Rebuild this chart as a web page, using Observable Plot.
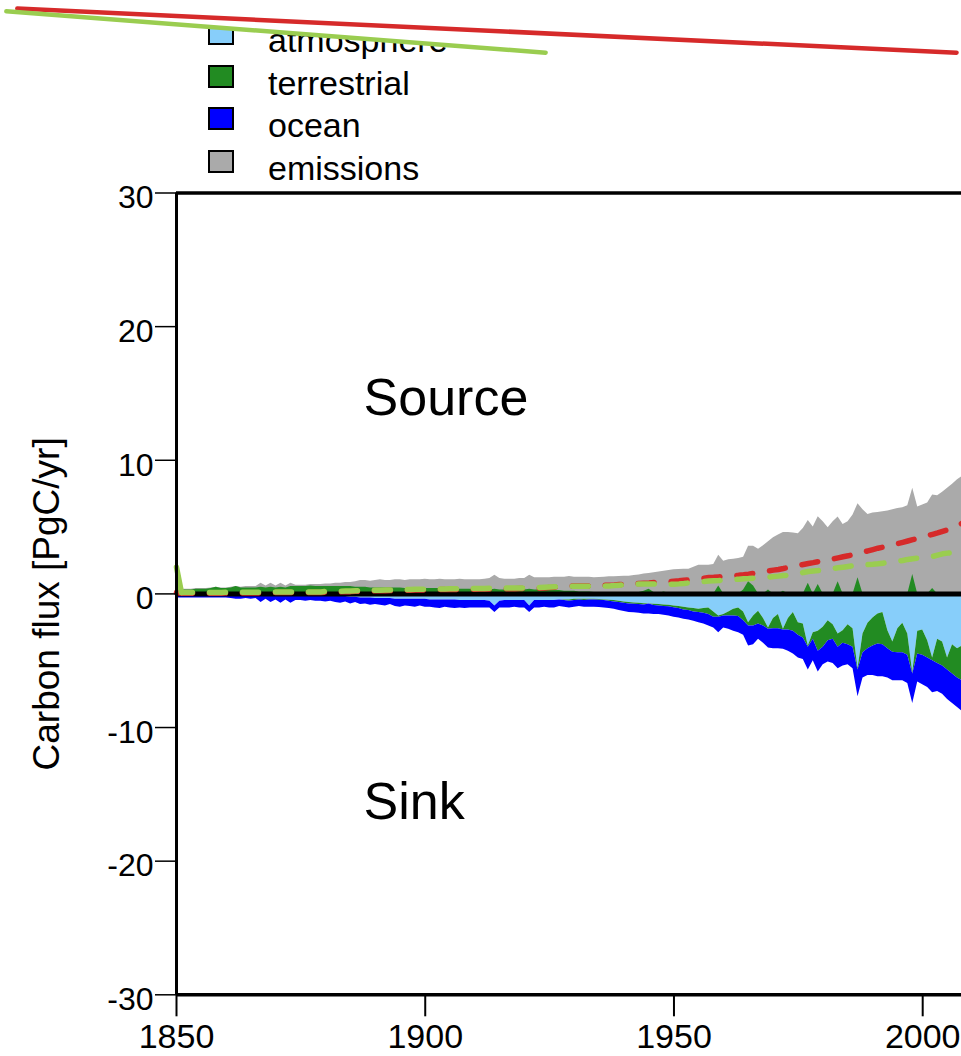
<!DOCTYPE html>
<html>
<head>
<meta charset="utf-8">
<script src="https://cdn.jsdelivr.net/npm/d3@7"></script>
<script src="https://cdn.jsdelivr.net/npm/@observablehq/plot@0.6"></script>
<style>
  html, body { margin: 0; padding: 0; background: #fff; }
  #wrap { position: relative; width: 961px; height: 1056px; overflow: hidden; font-family: "Liberation Sans", Arial, sans-serif; }
  #legend { position: absolute; left: 0; top: 0; width: 961px; height: 200px; z-index: 0; }
  #chart { position: absolute; left: 0; top: 0; z-index: 1; }
  .sw { position: absolute; left: 208px; width: 26px; height: 23px; border: 2px solid #000; box-sizing: border-box; }
  .lt { position: absolute; left: 268px; font-size: 34px; line-height: 34px; color: #000; white-space: nowrap; }
</style>
</head>
<body>
<div id="wrap">
  <div id="legend"></div>
  <div id="chart"></div>
</div>
<script>
// ---------------- data (PgC/yr), one value per year 1850..2008 ----------------
const years = d3.range(1850, 2009);

const emissions = [
  0.35,0.35,0.35,0.35,0.4,0.4,0.4,0.45,0.5,0.45,
  0.45,0.5,0.55,0.5,0.55,0.55,0.55,0.8,0.6,0.8,
  0.6,0.8,0.6,0.8,0.65,0.65,0.65,0.7,0.7,0.7,
  0.75,0.75,0.8,0.8,0.85,0.85,0.9,1.0,1.0,0.95,
  1.0,1.05,1.0,1.0,1.05,1.05,1.0,1.05,1.05,1.05,
  1.1,1.05,1.05,1.1,1.05,1.05,1.05,1.1,1.05,1.05,
  1.05,1.05,1.1,1.15,1.4,1.15,1.1,1.1,1.1,1.15,
  1.15,1.4,1.2,1.2,1.2,1.2,1.25,1.25,1.25,1.3,
  1.25,1.25,1.25,1.25,1.2,1.22,1.25,1.28,1.28,1.3,
  1.32,1.32,1.38,1.42,1.48,1.52,1.58,1.64,1.7,1.76,
  1.8,1.82,1.84,1.85,2.0,2.15,2.15,2.15,2.2,2.9,
  2.45,2.55,2.6,2.65,2.75,3.57,3.57,3.35,3.6,3.9,
  4.2,4.4,4.6,4.6,4.55,4.5,4.9,5.5,5.0,5.77,
  5.4,4.95,5.4,5.75,5.2,5.4,5.9,6.75,6.3,5.95,
  6.05,6.1,6.15,6.2,6.3,6.4,6.45,6.6,7.9,6.5,
  6.65,6.8,7.4,7.35,7.6,7.9,8.2,8.55,8.8
];

// terrestrial flux shown as a source (above zero)
const terrestrialSource = [
  0.3,0.3,0.3,0.3,0.35,0.35,0.35,0.4,0.5,0.4,
  0.4,0.45,0.55,0.45,0.45,0.45,0.45,0.5,0.45,0.5,
  0.45,0.5,0.45,0.55,0.55,0.55,0.55,0.6,0.55,0.55,
  0.55,0.55,0.55,0.55,0.55,0.55,0.5,0.5,0.5,0.45,
  0.45,0.45,0.45,0.45,0.45,0.45,0.4,0.4,0.4,0.4,
  0.4,0.4,0.4,0.4,0.35,0.35,0.35,0.35,0.35,0.35,
  0.3,0.3,0.3,0.3,0.35,0.3,0.3,0.3,0.3,0.3,
  0.3,0.35,0.3,0.3,0.25,0.25,0.25,0.25,0.2,0.2,
  0.2,0.15,0.15,0.15,0.1,0.1,0.1,0.1,0.05,0.05,
  0.05,0.05,0.05,0.1,0.2,0.35,0.1,0.05,0.15,0.05,
  0,0,0,0,0,0,0,0,0,0.6,
  0,0,0,0,0.3,0.9,0.6,0,0,0.3,
  0,0,0.2,0,0,0,0,0.8,0,0.7,
  0,0,0,0.9,0,0,0,1.2,0,0,
  0,0,0,0,0,0,0,0,1.45,0,
  0,0,0.4,0,0,0,0,0,0
];

// sinks (magnitudes, drawn below zero)
const atmosphere = [
  0.05,0.05,0.05,0.05,0.05,0.05,0.05,0.05,0.05,0.05,
  0.05,0.05,0.05,0.05,0.05,0.05,0.05,0.05,0.05,0.05,
  0.1,0.1,0.1,0.1,0.1,0.1,0.1,0.1,0.1,0.1,
  0.15,0.15,0.2,0.2,0.2,0.25,0.25,0.3,0.3,0.3,
  0.35,0.35,0.35,0.35,0.4,0.4,0.4,0.4,0.4,0.4,
  0.4,0.45,0.45,0.45,0.45,0.45,0.45,0.5,0.5,0.5,
  0.5,0.5,0.5,0.55,0.9,0.55,0.5,0.5,0.5,0.5,
  0.5,0.9,0.5,0.5,0.5,0.5,0.5,0.45,0.45,0.45,
  0.4,0.4,0.4,0.4,0.4,0.42,0.45,0.47,0.5,0.55,
  0.6,0.65,0.68,0.7,0.73,0.75,0.77,0.8,0.83,0.85,
  0.9,0.95,1.0,1.05,1.1,1.15,1.1,1.05,1.35,1.65,
  1.55,1.35,1.15,1.05,1.35,2.15,1.65,1.3,1.85,2.55,
  1.85,1.55,2.65,1.85,1.4,2.15,2.25,3.9,2.9,2.8,
  2.5,2.0,2.3,3.0,2.75,2.3,2.6,5.6,3.0,2.2,
  1.8,1.5,1.4,2.75,3.6,2.6,2.2,3.0,5.9,2.8,
  2.7,3.5,4.8,3.4,3.6,4.8,3.8,4.1,3.9
];

const terrestrialSink = [
  0,0,0,0,0,0,0,0,0,0,
  0,0,0,0,0,0,0,0,0,0,
  0,0,0,0,0,0,0,0,0,0,
  0,0,0,0,0,0,0,0,0,0,
  0,0,0,0,0,0,0,0,0,0,
  0,0,0,0,0,0,0,0,0,0,
  0,0,0,0,0,0,0,0,0,0,
  0,0,0,0,0,0,0,0,0.05,0.1,
  0.1,0.05,0.1,0.05,0.05,0.05,0.05,0.08,0.1,0.1,
  0.1,0.1,0.1,0.1,0.1,0,0.1,0.1,0.12,0.12,
  0.13,0.15,0.2,0.2,0.25,0.25,0.35,0.5,0.4,0.1,
  0.1,0.3,0.5,0.65,0.65,0.25,0.75,0.95,0.55,0.1,
  0.75,1.05,0.05,0.85,1.4,0.95,1.05,0.1,0.5,1.5,
  1.5,1.5,1.1,1.0,0.95,1.5,1.4,0.1,1.4,1.9,
  2.1,2.25,2.4,1.35,0.76,1.8,2.2,1.6,0.1,1.7,
  1.9,1.3,0.2,1.8,1.8,0.9,2.2,2.2,2.6
];

const ocean = [
  0.25,0.25,0.25,0.25,0.25,0.25,0.25,0.25,0.25,0.25,
  0.25,0.3,0.35,0.35,0.3,0.35,0.3,0.6,0.35,0.6,
  0.35,0.6,0.35,0.6,0.4,0.4,0.45,0.4,0.45,0.45,
  0.45,0.4,0.45,0.5,0.4,0.5,0.4,0.5,0.45,0.55,
  0.45,0.5,0.55,0.45,0.55,0.6,0.5,0.55,0.6,0.5,
  0.6,0.55,0.6,0.65,0.55,0.6,0.65,0.55,0.6,0.55,
  0.55,0.55,0.55,0.5,0.5,0.5,0.55,0.55,0.5,0.55,
  0.55,0.5,0.55,0.55,0.5,0.55,0.55,0.5,0.5,0.5,
  0.5,0.5,0.5,0.55,0.55,0.55,0.55,0.55,0.55,0.6,
  0.62,0.65,0.63,0.65,0.67,0.75,0.68,0.65,0.65,0.68,
  0.72,0.7,0.7,0.7,0.7,0.75,0.8,0.85,0.8,1.15,
  0.9,1.0,1.15,1.2,1.1,1.5,1.4,1.15,1.3,1.4,
  1.5,1.5,1.45,1.6,1.7,1.7,1.6,1.7,1.6,1.55,
  1.3,1.6,1.8,1.6,1.7,1.5,1.6,2.0,1.9,2.0,
  2.2,2.45,2.4,2.2,2.14,2.1,2.1,2.1,2.2,2.1,
  2.2,2.2,2.4,2.1,2.1,2.2,2.2,2.2,2.3
];

// dashed lines
const lineRed = [
  0.1,0.05,0.05,0.05,0.05,0.05,0.05,0.05,0.05,0.05,
  0.07,0.07,0.07,0.07,0.07,0.07,0.07,0.07,0.07,0.07,
  0.1,0.1,0.1,0.1,0.1,0.1,0.1,0.1,0.1,0.1,
  0.13,0.13,0.15,0.15,0.17,0.17,0.19,0.2,0.21,0.22,
  0.23,0.23,0.24,0.25,0.25,0.26,0.27,0.28,0.29,0.3,
  0.3,0.31,0.31,0.32,0.32,0.33,0.33,0.34,0.35,0.35,
  0.35,0.36,0.36,0.37,0.37,0.38,0.38,0.39,0.39,0.4,
  0.4,0.41,0.42,0.43,0.45,0.47,0.5,0.53,0.56,0.6,
  0.6,0.6,0.6,0.6,0.6,0.62,0.64,0.65,0.67,0.7,
  0.72,0.74,0.76,0.78,0.8,0.82,0.85,0.88,0.9,0.92,
  0.95,0.98,1.02,1.06,1.1,1.14,1.18,1.22,1.24,1.27,
  1.3,1.33,1.36,1.39,1.43,1.48,1.54,1.6,1.66,1.72,
  1.78,1.83,1.9,1.98,2.05,2.12,2.2,2.27,2.34,2.42,
  2.48,2.55,2.62,2.7,2.78,2.85,2.94,3.03,3.12,3.22,
  3.32,3.42,3.5,3.58,3.67,3.76,3.86,3.96,4.06,4.16,
  4.26,4.36,4.46,4.56,4.68,4.8,4.93,5.1,5.3
];

const lineGreen = [
  2.0,0.1,0.1,0.1,0.1,0.1,0.1,0.1,0.1,0.1,
  0.12,0.12,0.12,0.12,0.12,0.12,0.12,0.12,0.12,0.12,
  0.15,0.15,0.15,0.15,0.15,0.15,0.15,0.15,0.15,0.15,
  0.18,0.18,0.2,0.2,0.22,0.22,0.24,0.25,0.26,0.27,
  0.28,0.28,0.29,0.3,0.3,0.31,0.32,0.33,0.34,0.35,
  0.35,0.36,0.36,0.37,0.37,0.38,0.38,0.39,0.4,0.4,
  0.4,0.41,0.41,0.42,0.42,0.43,0.43,0.44,0.44,0.45,
  0.45,0.46,0.47,0.48,0.5,0.52,0.54,0.55,0.56,0.58,
  0.58,0.58,0.58,0.58,0.58,0.58,0.59,0.6,0.62,0.65,
  0.68,0.7,0.72,0.74,0.75,0.75,0.74,0.73,0.72,0.72,
  0.73,0.75,0.78,0.82,0.86,0.9,0.93,0.96,0.98,1.0,
  1.03,1.06,1.08,1.1,1.13,1.15,1.18,1.2,1.23,1.26,
  1.3,1.33,1.37,1.4,1.45,1.5,1.6,1.68,1.72,1.75,
  1.8,1.85,1.9,1.95,2.0,2.05,2.1,2.13,2.16,2.2,
  2.22,2.25,2.3,2.35,2.4,2.45,2.5,2.58,2.63,2.67,
  2.7,2.75,2.8,2.9,3.0,3.05,3.1,3.15,3.2
];

// axes / labels
const xDomain = [1850, 2007.8];
const yDomain = [-30, 30];
const xTicks = [1850, 1900, 1950, 2000];
const yTicks = [-30, -20, -10, 0, 10, 20, 30];
const yLabel = "Carbon flux [PgC/yr]";
const regionLabels = [
  {label: "Source", x: 1887.6, y: 14.6},
  {label: "Sink", x: 1887.6, y: -15.6}
];
const legendLabels = ["atmosphere", "terrestrial", "ocean", "emissions"];
const legendColors = ["#87cefa", "#228b22", "#0000ff", "#aaaaaa"];

// cropped edge strokes at the top of the picture
const edgeGreen = [{x: 1815.8, y: 43.6}, {x: 1924.2, y: 40.5}];
const edgeRed = [{x: 1818.0, y: 43.8}, {x: 2006.8, y: 40.5}];

const C = {atm: "#87cefa", terr: "#228b22", ocean: "#0000ff", emis: "#aaaaaa", red: "#d62a2a", green: "#9acd50"};

// ---------------- build ----------------
const rows = years.map((year, i) => ({
  year,
  emissions: emissions[i],
  source: terrestrialSource[i],
  atm: atmosphere[i],
  sink: terrestrialSink[i],
  ocean: ocean[i],
  red: lineRed[i],
  green: lineGreen[i]
}));

// legend
const legend = document.getElementById("legend");
legendLabels.forEach((lab, i) => {
  const top = 22 + 42.7 * i;
  const sw = document.createElement("div");
  sw.className = "sw";
  sw.style.top = top + "px";
  sw.style.background = legendColors[i];
  legend.appendChild(sw);
  const t = document.createElement("div");
  t.className = "lt";
  t.style.top = (top + 1) + "px";
  t.textContent = lab;
  legend.appendChild(t);
});

const dash = "16,17";

const chart = Plot.plot({
  width: 961,
  height: 1056,
  marginLeft: 176,
  marginRight: 0,
  marginTop: 192.5,
  marginBottom: 61.7,
  x: {domain: xDomain, label: null},
  y: {domain: yDomain, label: null},
  style: {background: "transparent", fontFamily: "'Liberation Sans', Arial, sans-serif", color: "#000"},
  marks: [
    Plot.areaY(rows, {x: "year", y1: 0, y2: "emissions", fill: C.emis}),
    Plot.areaY(rows, {x: "year", y1: 0, y2: "source", fill: C.terr}),
    Plot.areaY(rows, {x: "year", y1: 0, y2: d => -d.atm, fill: C.atm}),
    Plot.areaY(rows, {x: "year", y1: d => -d.atm, y2: d => -(d.atm + d.sink), fill: C.terr}),
    Plot.areaY(rows, {x: "year", y1: d => -(d.atm + d.sink), y2: d => -(d.atm + d.sink + d.ocean), fill: C.ocean}),
    Plot.ruleY([0], {stroke: "#000", strokeWidth: 5}),
    Plot.line(rows, {x: "year", y: "red", stroke: C.red, strokeWidth: 5.5, strokeDasharray: dash, strokeLinecap: "round", strokeLinejoin: "round"}),
    Plot.line(rows.slice(0, 2), {x: "year", y: "green", stroke: C.green, strokeWidth: 5.5, strokeLinecap: "round", strokeLinejoin: "round"}),
    Plot.line(rows.slice(1), {x: "year", y: "green", stroke: C.green, strokeWidth: 5.5, strokeDasharray: dash, strokeDashoffset: 5, strokeLinecap: "round", strokeLinejoin: "round"}),
    Plot.ruleY(yDomain, {stroke: "#000", strokeWidth: 3.5}),
    Plot.ruleX([xDomain[0]], {stroke: "#000", strokeWidth: 3}),
    Plot.axisY({ticks: yTicks, tickSize: 21, fill: "none", stroke: "#000", strokeWidth: 1.5, label: null}),
    Plot.axisY({ticks: yTicks, tickSize: 0, tickPadding: 23, dy: 5, fontSize: 32, fill: "#000", tickFormat: d => String(d), label: null}),
    Plot.axisX({ticks: xTicks, tickSize: 22, tickPadding: 7, fontSize: 34, stroke: "#000", fill: "#000", strokeWidth: 2, tickFormat: d => String(d), label: null}),
    Plot.text([yLabel], {text: d => d, frameAnchor: "left", textAnchor: "middle", rotate: -90, dx: -129, dy: 10, fontSize: 37, fill: "#000"}),
    Plot.text(regionLabels, {x: "x", y: "y", text: "label", textAnchor: "start", fontSize: 52, fill: "#000"}),
    Plot.areaY(edgeGreen, {x: "x", y1: "y", y2: () => 80, fill: "#fff"}),
    Plot.line(edgeRed, {x: "x", y: "y", stroke: C.red, strokeWidth: 4.5}),
    Plot.line(edgeGreen, {x: "x", y: "y", stroke: C.green, strokeWidth: 4.5})
  ]
});
document.getElementById("chart").appendChild(chart);
</script>
</body>
</html>
